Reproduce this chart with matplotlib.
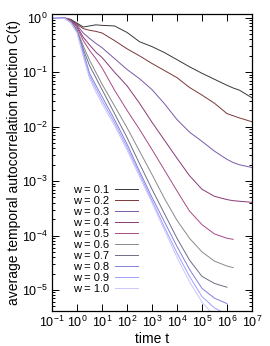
import numpy as np
import matplotlib
matplotlib.use('Agg')
import matplotlib.pyplot as plt

plt.rcParams['font.family'] = ['Liberation Sans', 'DejaVu Sans']
plt.rcParams['mathtext.fontset'] = 'custom'
plt.rcParams['mathtext.rm'] = 'Liberation Sans'

# log10 of time t
logt = [-1, -0.5, -0.25, 0, 0.25, 0.5, 0.75, 1, 1.5, 2, 2.5, 3, 3.5, 4,
        4.5, 5, 5.5, 6, 6.25, 6.5, 7]

labels = ['w = 0.1', 'w = 0.2', 'w = 0.3', 'w = 0.4', 'w = 0.5',
          'w = 0.6', 'w = 0.7', 'w = 0.8', 'w = 0.9', 'w = 1.0']
colors = ['#383838', '#7a3838', '#7a58a8', '#883a76', '#a84a86',
          '#8a8a8a', '#6e6e88', '#8080d8', '#a0a0ff', '#c8c8ff']

N = np.nan
# log10 C(t)
c_w01 = [0, -0.005, -0.03, -0.10, -0.17, -0.15, -0.13, -0.14, -0.15, -0.27, -0.44,
         -0.53, -0.64, -0.77, -0.90, -1.02, -1.13, -1.24, -1.29, -1.33, -1.47]
c_w02 = [0, -0.005, -0.04, -0.12, -0.20, -0.23, -0.25, -0.28, -0.42, -0.57, -0.70,
         -0.84, -0.97, -1.10, -1.28, -1.42, -1.57, -1.76, -1.80, -1.84, -1.91]
c_w03 = [0, -0.005, -0.045, -0.14, -0.28, -0.38, -0.47, -0.55, -0.75, -0.95, -1.12,
         -1.32, -1.58, -1.87, -2.10, -2.27, -2.45, -2.60, -2.66, -2.70, -2.75]
c_w04 = [0, -0.005, -0.05, -0.16, -0.36, -0.50, -0.63, -0.73, -1.00, -1.25, -1.57,
         -1.92, -2.25, -2.58, -2.90, -3.15, -3.28, -3.34, -3.36, -3.37, -3.39]
c_w05 = [0, -0.005, -0.06, -0.18, -0.42, -0.60, -0.75, -0.92, -1.33, -1.70, -2.05,
         -2.42, -2.80, -3.18, -3.55, -3.80, -3.97, -4.05, -4.07, N, N]
c_w06 = [0, -0.01, -0.07, -0.22, -0.52, -0.78, -1.00, -1.22, -1.62, -2.02, -2.45,
         -2.88, -3.32, -3.72, -4.05, -4.30, -4.47, -4.56, -4.59, N, N]
c_w07 = [0, -0.01, -0.08, -0.24, -0.58, -0.88, -1.10, -1.32, -1.76, -2.20, -2.68,
         -3.15, -3.60, -4.05, -4.45, -4.75, -4.88, -4.95, N, N, N]
c_w08 = [0, -0.01, -0.085, -0.26, -0.63, -1.02, -1.24, -1.45, -1.87, -2.32, -2.82,
         -3.30, -3.75, -4.20, -4.62, -4.97, -5.15, -5.25, N, N, N]
c_w09 = [0, -0.01, -0.09, -0.27, -0.68, -1.07, -1.30, -1.52, -1.93, -2.38, -2.87,
         -3.36, -3.85, -4.32, -4.75, -5.12, -5.33, -5.45, N, N, N]
c_w10 = [0, -0.01, -0.095, -0.28, -0.72, -1.12, -1.36, -1.58, -1.98, -2.43, -2.92,
         -3.40, -3.90, -4.40, -4.85, -5.22, -5.48, -5.60, N, N, N]
curves = [c_w01, c_w02, c_w03, c_w04, c_w05, c_w06, c_w07, c_w08, c_w09, c_w10]

fig = plt.figure(figsize=(2.70, 3.46), dpi=100)
ax = fig.add_axes([0.193, 0.101, 0.740, 0.859])

t = 10.0 ** np.array(logt)
for i, c in enumerate(curves):
    ax.plot(t, 10.0 ** np.array(c), color=colors[i], lw=0.7, label=labels[i])

ax.set_xscale('log')
ax.set_yscale('log')
ax.set_xlim(1e-1, 1e7)
ax.set_ylim(4.1e-6, 1.18)
ax.set_xticks([10.0 ** k for k in range(-1, 8)])
ax.set_yticks([10.0 ** k for k in range(-5, 1)])
ax.tick_params(which='both', direction='in', top=True, right=True,
               labelsize=9, width=0.7)
ax.tick_params(which='major', length=5, pad=3)
ax.tick_params(which='minor', length=2.5)
for s in ax.spines.values():
    s.set_linewidth(0.9)

ax.set_xlabel('time t', fontsize=10, labelpad=1)
ax.set_ylabel('average temporal autocorrelation function C(t)', fontsize=10,
              labelpad=1)

ax.legend(loc='lower right', bbox_to_anchor=(0.47, 0.03), frameon=False,
          markerfirst=False, fontsize=8, labelspacing=0.09, handlelength=2.1,
          handletextpad=0.5, borderpad=0.2)

fig.savefig('out.png', dpi=100)
